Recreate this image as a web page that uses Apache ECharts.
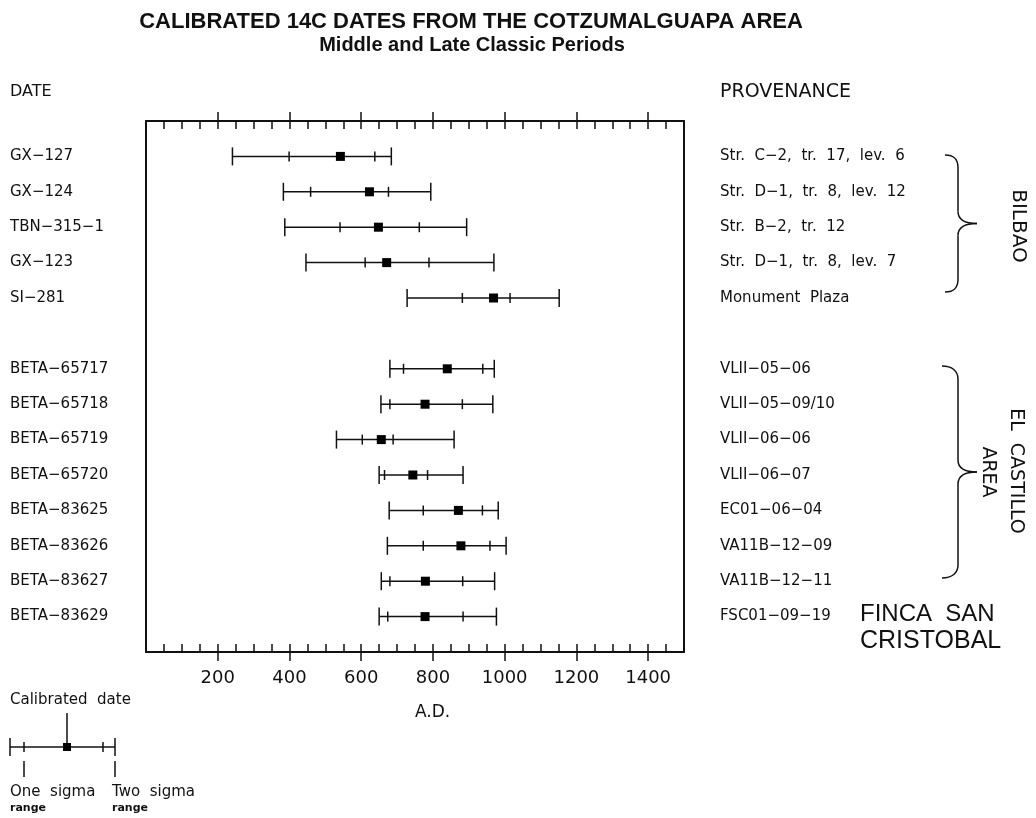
<!DOCTYPE html>
<html>
<head>
<meta charset="utf-8">
<script src="https://cdn.jsdelivr.net/npm/echarts@6/dist/echarts.min.js"></script>
<style>html,body{margin:0;padding:0;background:#fff}#c{width:1036px;height:818px}</style>
</head>
<body>
<div id="c"></div>
<script>
// ---- data ----
const labIds = ['GX−127','GX−124','TBN−315−1','GX−123','SI−281', null,
  'BETA−65717','BETA−65718','BETA−65719','BETA−65720','BETA−83625','BETA−83626','BETA−83627','BETA−83629'];
const provenance = ['Str.  C−2,  tr.  17,  lev.  6','Str.  D−1,  tr.  8,  lev.  12','Str.  B−2,  tr.  12','Str.  D−1,  tr.  8,  lev.  7','Monument  Plaza', null,
  'VLII−05−06','VLII−05−09/10','VLII−06−06','VLII−06−07','EC01−06−04','VA11B−12−09','VA11B−12−11','FSC01−09−19'];
const twoSigmaLow  = [241, 383, 387, 446, 728, null, 680, 655, 531, 650, 678, 673, 656, 650];
const oneSigmaLow  = [399, 459, 541, 611, 882, null, 718, 680, 603, 665, 773, 773, 680, 674];
const calibrated   = [542, 623, 648, 671, 969, null, 840, 778, 656, 744, 871, 878, 779, 778];
const oneSigmaHigh = [638, 676, 762, 789, 1015, null, 939, 882, 689, 785, 938, 959, 883, 884];
const twoSigmaHigh = [684, 794, 894, 970, 1152, null, 971, 967, 859, 884, 982, 1004, 972, 977];
const xTickValues = [200, 400, 600, 800, 1000, 1200, 1400];
const xTickLabels = ['200','400','600','800','1000','1200','1400'];

const rows = labIds.map((id, i) => id ? [i, twoSigmaLow[i], oneSigmaLow[i], calibrated[i], oneSigmaHigh[i], twoSigmaHigh[i]] : null).filter(Boolean);

const FONT = 'DejaVu Sans';
const BLACK = '#111';
const chart = echarts.init(document.getElementById('c'), null, {renderer: 'canvas'});

const gridPos = {left: 146, right: 352, top: 121, bottom: 166};
const axisLineStyle = {color: BLACK, width: 2};

function renderItem(params, api) {
  const y = api.value(0);
  const p = [1,2,3,4,5].map(k => api.coord([api.value(k), y]));
  const ls = {stroke: BLACK, lineWidth: 1.5};
  const ch = [];
  ch.push({type: 'line', shape: {x1: p[0][0], y1: p[0][1], x2: p[4][0], y2: p[4][1]}, style: ls});
  [0, 4].forEach(k => ch.push({type: 'line', shape: {x1: p[k][0], y1: p[k][1] - 9, x2: p[k][0], y2: p[k][1] + 9}, style: ls}));
  [1, 3].forEach(k => ch.push({type: 'line', shape: {x1: p[k][0], y1: p[k][1] - 5, x2: p[k][0], y2: p[k][1] + 5}, style: ls}));
  ch.push({type: 'rect', shape: {x: p[2][0] - 4.5, y: p[2][1] - 4.5, width: 9, height: 9}, style: {fill: '#000'}});
  return {type: 'group', children: ch};
}

// curly brace built from bezier curves and lines (decoration)
function brace(x0, top, bottom, spine, tip) {
  const mid = (top + bottom) / 2;
  const st = {stroke: BLACK, lineWidth: 1.5, fill: 'none'};
  return [
    {type: 'bezierCurve', shape: {x1: x0, y1: top, x2: spine, y2: top + 13, cpx1: x0 + 10, cpy1: top, cpx2: spine, cpy2: top + 5}, style: st},
    {type: 'line', shape: {x1: spine, y1: top + 13, x2: spine, y2: mid - 12}, style: st},
    {type: 'bezierCurve', shape: {x1: spine, y1: mid - 12, x2: tip, y2: mid, cpx1: spine, cpy1: mid - 4, cpx2: spine + 7, cpy2: mid}, style: st},
    {type: 'bezierCurve', shape: {x1: tip, y1: mid, x2: spine, y2: mid + 12, cpx1: spine + 7, cpy1: mid, cpx2: spine, cpy2: mid + 4}, style: st},
    {type: 'line', shape: {x1: spine, y1: mid + 12, x2: spine, y2: bottom - 13}, style: st},
    {type: 'bezierCurve', shape: {x1: spine, y1: bottom - 13, x2: x0, y2: bottom, cpx1: spine, cpy1: bottom - 5, cpx2: x0 + 10, cpy2: bottom}, style: st}
  ];
}

const yBase = {type: 'value', min: -1, max: 14, interval: 1, inverse: true, splitLine: {show: false}, axisTick: {show: false}};
const xBase = {type: 'value', min: 0, max: 1500, splitLine: {show: false}};

const option = {
  backgroundColor: '#fff',
  animation: false,
  title: [
    {text: 'CALIBRATED 14C DATES FROM THE COTZUMALGUAPA AREA', left: 466, top: 6, textAlign: 'center',
     textStyle: {fontFamily: 'Liberation Sans Narrow, Liberation Sans', fontWeight: 'bold', fontSize: 22, color: BLACK}},
    {text: 'Middle and Late Classic Periods', left: 467, top: 30, textAlign: 'center',
     textStyle: {fontFamily: 'Liberation Sans Narrow, Liberation Sans', fontWeight: 'bold', fontSize: 20, color: BLACK}}
  ],
  grid: [Object.assign({}, gridPos), Object.assign({}, gridPos)],
  xAxis: [
    Object.assign({}, xBase, {gridIndex: 0, position: 'bottom', interval: 50,
     axisLine: {show: true, onZero: false, lineStyle: axisLineStyle},
     axisTick: {show: true, inside: true, length: 8, lineStyle: {color: BLACK, width: 1.5}},
     axisLabel: {show: true, customValues: xTickValues, margin: 17, color: BLACK, fontFamily: FONT, fontSize: 18,
       formatter: v => xTickLabels[xTickValues.indexOf(v)] || ''}}),
    Object.assign({}, xBase, {gridIndex: 0, position: 'top', interval: 50,
     axisLine: {show: true, onZero: false, lineStyle: axisLineStyle},
     axisTick: {show: true, inside: true, length: 8, lineStyle: {color: BLACK, width: 1.5}},
     axisLabel: {show: false}}),
    Object.assign({}, xBase, {gridIndex: 1, position: 'bottom',
     axisLine: {show: false, onZero: false},
     axisTick: {show: true, inside: false, length: 9, customValues: xTickValues, lineStyle: {color: BLACK, width: 1.5}},
     axisLabel: {show: false}}),
    Object.assign({}, xBase, {gridIndex: 1, position: 'top',
     axisLine: {show: false, onZero: false},
     axisTick: {show: true, inside: false, length: 9, customValues: xTickValues, lineStyle: {color: BLACK, width: 1.5}},
     axisLabel: {show: false}})
  ],
  yAxis: [
    Object.assign({}, yBase, {gridIndex: 0, position: 'left',
      axisLine: {show: true, onZero: false, lineStyle: axisLineStyle},
      axisLabel: {show: true, align: 'left', margin: 136, color: BLACK, fontFamily: FONT, fontSize: 15,
        formatter: v => labIds[v] || ''}}),
    Object.assign({}, yBase, {gridIndex: 0, position: 'right',
      axisLine: {show: true, onZero: false, lineStyle: axisLineStyle},
      axisLabel: {show: true, align: 'left', margin: 36, color: BLACK, fontFamily: FONT, fontSize: 15,
        formatter: v => provenance[v] || ''}}),
    Object.assign({}, yBase, {gridIndex: 1, show: false, axisLine: {onZero: false}})
  ],
  series: [{
    type: 'custom', xAxisIndex: 0, yAxisIndex: 0, renderItem: renderItem,
    encode: {x: [1, 2, 3, 4, 5], y: 0}, data: rows, clip: false, silent: true
  }],
  graphic: [
    {type: 'text', left: 10, top: 84, style: {text: 'DATE', font: '16px "DejaVu Sans"', fill: BLACK}},
    {type: 'text', left: 720, top: 83, style: {text: 'PROVENANCE', font: '19px "DejaVu Sans"', fill: BLACK}},
    {type: 'text', left: 415, top: 704, style: {text: 'A.D.', font: '17px "DejaVu Sans"', fill: BLACK}},
    ...brace(945, 155, 292, 958, 977),
    ...brace(942, 366, 578, 958, 977),
    {type: 'text', x: 1018, y: 226, rotation: -Math.PI / 2,
     style: {text: 'BILBAO', font: '20px "DejaVu Sans"', fill: BLACK, align: 'center', verticalAlign: 'middle'}},
    {type: 'text', x: 1016, y: 471, rotation: -Math.PI / 2,
     style: {text: 'EL  CASTILLO', font: '19px "DejaVu Sans"', fill: BLACK, align: 'center', verticalAlign: 'middle'}},
    {type: 'text', x: 988, y: 472, rotation: -Math.PI / 2,
     style: {text: 'AREA', font: '19px "DejaVu Sans"', fill: BLACK, align: 'center', verticalAlign: 'middle'}},
    {type: 'text', left: 860, top: 602, style: {text: 'FINCA  SAN', font: '24px "Liberation Sans"', fill: BLACK}},
    {type: 'text', left: 860, top: 629, style: {text: 'CRISTOBAL', font: '25px "Liberation Sans"', fill: BLACK}},
    // key
    {type: 'text', left: 10, top: 693, style: {text: 'Calibrated  date', font: '15px "DejaVu Sans"', fill: BLACK}},
    {type: 'line', shape: {x1: 67, y1: 713, x2: 67, y2: 746}, style: {stroke: BLACK, lineWidth: 1.5}},
    {type: 'line', shape: {x1: 10, y1: 747, x2: 115, y2: 747}, style: {stroke: BLACK, lineWidth: 1.5}},
    {type: 'line', shape: {x1: 10, y1: 738, x2: 10, y2: 756}, style: {stroke: BLACK, lineWidth: 1.5}},
    {type: 'line', shape: {x1: 115, y1: 738, x2: 115, y2: 756}, style: {stroke: BLACK, lineWidth: 1.5}},
    {type: 'line', shape: {x1: 24, y1: 742, x2: 24, y2: 752}, style: {stroke: BLACK, lineWidth: 1.5}},
    {type: 'line', shape: {x1: 103, y1: 742, x2: 103, y2: 752}, style: {stroke: BLACK, lineWidth: 1.5}},
    {type: 'rect', shape: {x: 63, y: 743, width: 8, height: 8}, style: {fill: '#000'}},
    {type: 'line', shape: {x1: 24, y1: 761, x2: 24, y2: 777}, style: {stroke: BLACK, lineWidth: 1.5}},
    {type: 'line', shape: {x1: 115, y1: 761, x2: 115, y2: 777}, style: {stroke: BLACK, lineWidth: 1.5}},
    {type: 'text', left: 10, top: 785, style: {text: 'One  sigma', font: '15px "DejaVu Sans"', fill: BLACK}},
    {type: 'text', left: 112, top: 785, style: {text: 'Two  sigma', font: '15px "DejaVu Sans"', fill: BLACK}},
    {type: 'text', left: 10, top: 803, style: {text: 'range', font: 'bold 11px "DejaVu Sans"', fill: BLACK}},
    {type: 'text', left: 112, top: 803, style: {text: 'range', font: 'bold 11px "DejaVu Sans"', fill: BLACK}}
  ]
};
chart.setOption(option);
</script>
</body>
</html>
